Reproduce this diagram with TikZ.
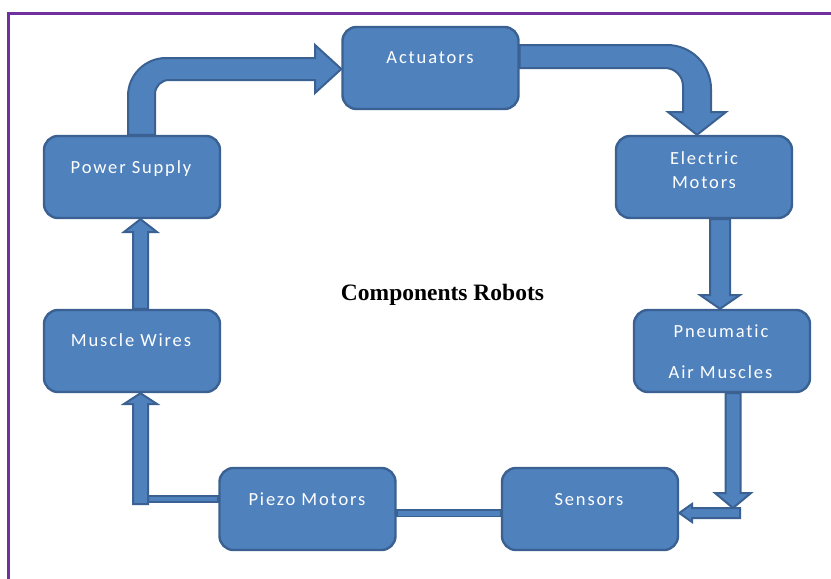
\documentclass[tikz,border=0pt]{standalone}
\usepackage{fontspec}
\newfontfamily\boxfont{Carlito}[LetterSpace=10,Ligatures=NoCommon]
\newfontfamily\titlefont{Liberation Serif}
\definecolor{bfill}{HTML}{4F81BD}
\definecolor{bline}{HTML}{3A6192}
\definecolor{frame}{HTML}{7030A0}
\pgfdeclarelayer{bg}
\pgfsetlayers{bg,main}
\tikzset{
  box/.style={rectangle, rounded corners=14pt, fill=bfill, draw=bline, line width=2.4pt,
    minimum width=176pt, minimum height=82pt, inner sep=0pt},
  lbl/.style={anchor=base, text=white, font=\boxfont\fontsize{18.5}{22}\selectfont, inner sep=0pt},
  blk/.style={fill=bfill, draw=bline, line width=2pt, line join=miter},
}
\begin{document}
\begin{tikzpicture}[x=1pt,y=-1pt]
\useasboundingbox (0,0) rectangle (831,579);
\begin{pgfonlayer}{bg}
\fill[white] (0,0) rectangle (831,579);
\draw[frame, line width=3pt] (8.5,580) -- (8.5,13) -- (832,13);
\end{pgfonlayer}

% boxes
\path (430.5,68) node[box] (act) {}
      (132,177) node[box] (pow) {}
      (704,177) node[box] (ele) {}
      (132,351) node[box] (mus) {}
      (722,351) node[box] (pne) {}
      (307.5,509) node[box] (pie) {}
      (590,509) node[box] (sen) {};

\begin{pgfonlayer}{bg}
% Power Supply -> Actuators (bent block arrow)
\draw[blk] (128,0 |- pow.north) -- (128,96) .. controls (128,75) and (145,58) .. (166,58)
  -- (315,58) -- (315,45) -- (act.west |- 0,69) -- (315,93) -- (315,80) -- (169,80)
  .. controls (161.3,80) and (155,86.3) .. (155,94) -- (155,0 |- pow.north) -- cycle;

% Actuators -> Electric Motors (bent block arrow)
\draw[blk] (act.east |- 0,45) -- (667,45) .. controls (691.3,45) and (711,64.7) .. (711,89)
  -- (711,112) -- (726,112) -- (697,0 |- ele.north) -- (668,112) -- (683,112) -- (683,86)
  .. controls (683,76.1) and (674.9,68) .. (665,68) -- (act.east |- 0,68) -- cycle;

% Electric Motors -> Pneumatic Air Muscles
\draw[blk] (710,0 |- ele.south) -- (710,295) -- (700,295) -- (720,0 |- pne.north)
  -- (740,295) -- (730,295) -- (730,0 |- ele.south) -- cycle;

% Pneumatic Air Muscles -> (down) -> Sensors
\coordinate (pcorner) at (733,508);
\draw[blk] (725.5,0 |- pne.south) -- (725.5,493) -- (715,493) -- (pcorner)
  -- (751,493) -- (740.5,493) -- (740.5,0 |- pne.south) -- cycle;
\draw[blk] (740,508) -- (692,508) -- (692,504) -- (sen.east |- 0,513) -- (692,522)
  -- (692,518) -- (740,518) -- cycle;

% Sensors -> Piezo Motors
\draw[blk, line width=1.8pt] (pie.east |- 0,510) rectangle (sen.west |- 0,516.5);

% Piezo Motors -> Muscle Wires
\draw[blk] (146,495.5) rectangle (pie.west |- 0,502);
\draw[blk] (133,504) -- (133,404) -- (124,404) -- (140.5,0 |- mus.south) -- (157,404)
  -- (148,404) -- (148,504) -- cycle;

% Muscle Wires -> Power Supply
\draw[blk] (133,0 |- mus.north) -- (133,232) -- (124,232) -- (140.5,0 |- pow.south)
  -- (157,232) -- (148,232) -- (148,0 |- mus.north) -- cycle;
\end{pgfonlayer}

% labels
\node[lbl] (actt) at (430,63) {Actuators};
\node[lbl] (powt) at (131,173) {Power Supply};
\node[lbl] (elet1) at (704,164) {Electric};
\node[lbl] (elet2) at (704,188) {Motors};
\node[lbl] (pnet1) at (721,337) {Pneumatic};
\node[lbl] (pnet2) at (720.5,378) {Air Muscles};
\node[lbl] (must) at (131,346.5) {Muscle Wires};
\node[lbl] (piet) at (307,505) {Piezo Motors};
\node[lbl] (sent) at (589,505) {Sensors};

\node[anchor=base, inner sep=0pt, font=\titlefont\bfseries\fontsize{23.5}{28}\selectfont] (title) at (442.5,300) {Components Robots};
\end{tikzpicture}
\end{document}
